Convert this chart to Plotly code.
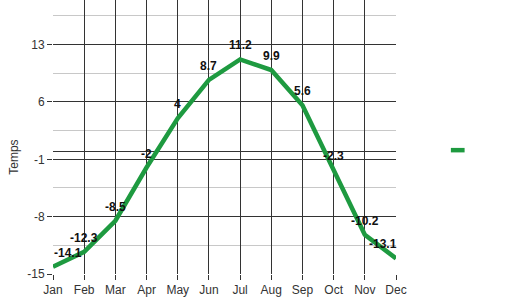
import plotly.graph_objects as go

months = ["Jan", "Feb", "Mar", "Apr", "May", "Jun", "Jul", "Aug", "Sep", "Oct", "Nov", "Dec"]
temps = [-14.1, -12.3, -8.5, -2, 4, 8.7, 11.2, 9.9, 5.6, -2.3, -10.2, -13.1]
labels = ["-14.1", "-12.3", "-8.5", "-2", "4", "8.7", "11.2", "9.9", "5.6", "-2.3", "-10.2", "-13.1"]
y_ticks = [-15, -8, -1, 6, 13]

fig = go.Figure()
fig.add_trace(go.Scatter(
    x=months, y=temps, mode="lines",
    line=dict(color="#1e9a40", width=4.5),
    showlegend=False,
))

for i, (m, v, lab) in enumerate(zip(months, temps, labels)):
    xs = 0
    if i == 0:
        xs = 15
    elif i == len(months) - 1:
        xs = -13
    fig.add_annotation(
        x=m, y=v, text=lab, showarrow=False,
        xanchor="center", yanchor="middle",
        xshift=xs, yshift=14,
        font=dict(family="Arial", size=12, color="#111111", weight="bold"),
    )

fig.update_layout(
    width=528, height=297,
    margin=dict(l=53, r=132, t=0, b=21),
    paper_bgcolor="white", plot_bgcolor="white",
    font=dict(family="Arial", size=12, color="#333333"),
    xaxis=dict(
        type="category", range=[0, 11],
        showgrid=True, gridcolor="#333333", gridwidth=1,
        ticks="outside", ticklen=5, tickcolor="#333333",
        tickfont=dict(size=12, color="#333333"),
        showline=False, zeroline=False,
    ),
    yaxis=dict(
        range=[-15, 18.45], tickvals=y_ticks, ticktext=[str(v) for v in y_ticks],
        showgrid=True, gridcolor="#333333", gridwidth=1,
        ticks="outside", ticklen=5, tickcolor="#333333",
        tickfont=dict(size=12, color="#333333"),
        minor=dict(tick0=-15, dtick=3.5, showgrid=True, gridcolor="#c8c8c8", gridwidth=1),
        zeroline=True, zerolinecolor="#333333", zerolinewidth=1,
        showline=False,
    ),
    showlegend=False,
)

fig.add_annotation(
    text="Temps", xref="paper", yref="paper", x=-0.114, y=0.4275,
    textangle=-90, showarrow=False, font=dict(size=12, color="#333333"),
    xanchor="center", yanchor="middle",
)
fig.add_shape(
    type="line", xref="paper", yref="paper",
    x0=1.16, x1=1.2, y0=0.452, y1=0.452,
    line=dict(color="#1e9a40", width=4.5),
)

fig.write_html("out.html")
